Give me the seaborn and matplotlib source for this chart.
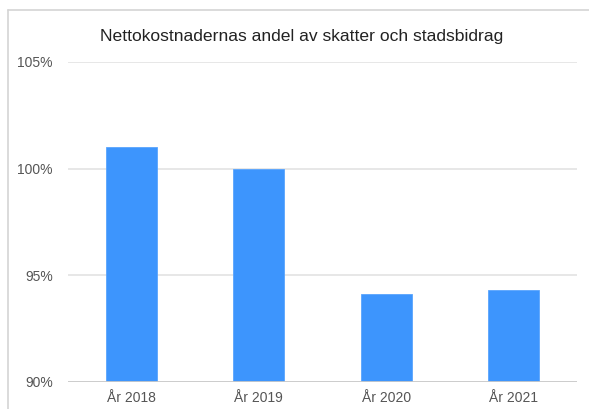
import matplotlib
matplotlib.use("Agg")
import matplotlib.pyplot as plt
from matplotlib.lines import Line2D
from matplotlib.ticker import FuncFormatter
import seaborn as sns
import pandas as pd

categories = ["År 2018", "År 2019", "År 2020", "År 2021"]
values = [101.0, 100.0, 94.1, 94.3]
yticks = [90, 95, 100, 105]
title = "Nettokostnadernas andel av skatter och stadsbidrag"

sns.set_theme(style="white")
plt.rcParams["font.family"] = ["Liberation Sans", "DejaVu Sans"]

W, H = 589, 409
fig = plt.figure(figsize=(W / 100, H / 100), dpi=100)
ax = fig.add_axes([68 / W, (H - 381.7) / H, (577 - 68) / W, (381.7 - 62) / H])

df = pd.DataFrame({"cat": categories, "val": values})
sns.barplot(data=df, x="cat", y="val", color="#3d95fd", saturation=1,
            width=0.4, ax=ax, zorder=3, edgecolor="#5aa5fd", linewidth=0.6)

ax.set_ylim(90, 105)
ax.set_xlim(-0.5, 3.5)
ax.set_yticks(yticks)
ax.yaxis.set_major_formatter(FuncFormatter(lambda v, p: f"{int(v)}%"))
ax.set_xlabel("")
ax.set_ylabel("")
for y in yticks[1:]:
    ax.axhline(y, color="#e0e0e0", lw=1.1, zorder=1)
ax.axhline(90, color="#c8c8c8", lw=1.3, zorder=4)
for s in ax.spines.values():
    s.set_visible(False)
ax.tick_params(axis="both", length=0, labelsize=10, labelcolor="#555555")
ax.tick_params(axis="y", pad=11)
ax.tick_params(axis="x", pad=7)

fig.text(302 / W, 1 - 37 / H, title, ha="center", va="center",
         fontsize=12.6, color="#222222")

fig.add_artist(Line2D([8 / W, 8 / W], [0, 1 - 10 / H], transform=fig.transFigure,
                      color="#d4d4d4", lw=1.2))
fig.add_artist(Line2D([8 / W, 1], [1 - 10 / H, 1 - 10 / H], transform=fig.transFigure,
                      color="#d4d4d4", lw=1.2))

fig.savefig("out.png", dpi=100, facecolor="white")
